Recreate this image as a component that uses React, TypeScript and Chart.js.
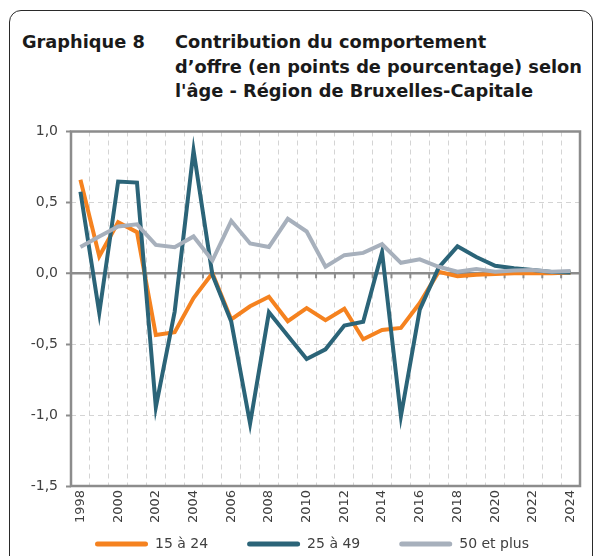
import React, { useEffect, useRef } from 'react';
import { Chart, registerables } from 'chart.js';

Chart.register(...registerables);

const years = [
  '1998', '1999', '2000', '2001', '2002', '2003', '2004', '2005', '2006',
  '2007', '2008', '2009', '2010', '2011', '2012', '2013', '2014', '2015',
  '2016', '2017', '2018', '2019', '2020', '2021', '2022', '2023', '2024',
];

const seriesLabels = ['15 à 24', '25 à 49', '50 et plus'];

const youth = [
  0.66, 0.12, 0.36, 0.29, -0.435, -0.415, -0.175, 0.0, -0.325,
  -0.233, -0.165, -0.338, -0.245, -0.33, -0.25, -0.465, -0.4, -0.385,
  -0.21, 0.01, -0.02, -0.01, -0.005, 0.0, 0.0, 0.0, 0.005,
];

const prime = [
  0.575, -0.28, 0.647, 0.64, -0.943, -0.27, 0.866, -0.01, -0.34,
  -1.06, -0.275, -0.44, -0.605, -0.536, -0.368, -0.342, 0.15, -1.008,
  -0.256, 0.04, 0.19, 0.115, 0.053, 0.035, 0.023, 0.01, 0.005,
];

const senior = [
  0.186, 0.26, 0.33, 0.345, 0.2, 0.184, 0.26, 0.09, 0.37,
  0.21, 0.186, 0.384, 0.295, 0.046, 0.128, 0.144, 0.205, 0.074,
  0.098, 0.046, 0.011, 0.03, 0.011, 0.02, 0.023, 0.011, 0.017,
];

const yMin = -1.5;
const yMax = 1.0;
const yStep = 0.5;

const colors = ['#F5821F', '#2B6478', '#A7B0BC'];
const FONT = '"DejaVu Sans", sans-serif';

const framePlugin = {
  id: 'frame',
  beforeDatasetsDraw(chart: any) {
    const { ctx, chartArea: a, scales } = chart;
    const xs = scales.x;
    const ys = scales.y;
    const n = chart.data.labels.length;
    const y0 = ys.getPixelForValue(0);
    ctx.save();
    ctx.strokeStyle = '#8c8c8c';
    ctx.lineWidth = 2;
    for (let i = 0; i <= n; i++) {
      const px = xs.left + (xs.width * i) / n;
      ctx.beginPath();
      ctx.moveTo(px, y0);
      ctx.lineTo(px, y0 + 5);
      ctx.stroke();
    }
    ctx.lineWidth = 2.5;
    ctx.strokeRect(a.left, a.top, a.width, a.height);
    ctx.restore();
  },
};

// move the legend box so its row sits just under the year labels
const legendPlace = {
  id: 'legendPlace',
  afterLayout(chart: any) {
    const lg = chart.legend;
    if (!lg) return;
    lg.left += 22;
    lg.right += 22;
    lg.top -= 33;
    lg.bottom -= 33;
  },
};

export default function App() {
  const ref = useRef<HTMLCanvasElement | null>(null);

  useEffect(() => {
    document.body.style.margin = '0';
    if (!ref.current) return;
    const series = [youth, prime, senior];
    const chart = new Chart(ref.current, {
      type: 'line',
      data: {
        labels: years,
        datasets: series.map((d, i) => ({
          label: seriesLabels[i],
          data: d,
          borderColor: colors[i],
          backgroundColor: colors[i],
          borderWidth: 4,
          pointRadius: 0,
          tension: 0,
          fill: false,
          order: 3 - i,
        })),
      },
      options: {
        animation: false,
        responsive: false,
        devicePixelRatio: 1,
        layout: { padding: { left: 0, right: 15, top: 21.5, bottom: 0 } },
        scales: {
          x: {
            type: 'category',
            offset: true,
            grid: { offset: true, color: '#d4d4d4', lineWidth: 1, drawTicks: false },
            border: { display: false, dash: [5, 4] },
            ticks: {
              autoSkip: false,
              maxRotation: 90,
              minRotation: 90,
              padding: 4,
              color: '#404040',
              font: { family: FONT, size: 13 },
              callback: (_v: any, i: number) => (i % 2 === 0 ? years[i] : ''),
            },
            afterFit: (s: any) => {
              s.height = 45;
            },
          },
          y: {
            min: yMin,
            max: yMax,
            ticks: {
              stepSize: yStep,
              padding: 8,
              color: '#404040',
              font: { family: FONT, size: 14 },
              callback: (v: any) => Number(v).toFixed(1).replace('.', ','),
            },
            grid: {
              color: (c: any) => (c.tick && c.tick.value === 0 ? '#8c8c8c' : '#d4d4d4'),
              lineWidth: (c: any) => (c.tick && c.tick.value === 0 ? 2.5 : 1),
              tickLength: 5,
              tickColor: '#8c8c8c',
              tickWidth: 2,
            },
            border: {
              display: false,
              dash: (c: any) => (c.type === 'tick' && c.tick && c.tick.value !== 0 ? [5, 4] : []),
            },
            afterFit: (s: any) => {
              s.width = 71;
            },
          },
        },
        plugins: {
          legend: {
            position: 'bottom',
            labels: {
              boxWidth: 53,
              boxHeight: 5,
              padding: 39,
              color: '#404040',
              font: { family: FONT, size: 14 },
              useBorderRadius: true,
              borderRadius: 2.5,
              sort: (a: any, b: any) => a.datasetIndex - b.datasetIndex,
              generateLabels: (c: any) =>
                Chart.defaults.plugins.legend.labels
                  .generateLabels(c)
                  .map((l: any) => ({ ...l, lineWidth: 0, fillStyle: l.strokeStyle })),
            },
          },
          tooltip: { enabled: false },
        },
      },
      plugins: [framePlugin, legendPlace],
    } as any);
    return () => chart.destroy();
  }, []);

  return (
    <div
      style={{
        position: 'fixed',
        left: 0,
        top: 0,
        width: 595,
        height: 556,
        overflow: 'hidden',
        background: '#fff',
      }}
    >
      <div
        style={{
          position: 'absolute',
          left: 9,
          top: 10,
          width: 584,
          height: 570,
          border: '1.5px solid #2a2a2a',
          borderRadius: 12,
          boxSizing: 'border-box',
        }}
      />
      <div
        style={{
          position: 'absolute',
          left: 22,
          top: 30,
          fontFamily: FONT,
          fontWeight: 'bold',
          fontSize: 17.8,
          lineHeight: '24.5px',
          color: '#1a1a1a',
          whiteSpace: 'nowrap',
        }}
      >
        Graphique 8
      </div>
      <div
        style={{
          position: 'absolute',
          left: 175,
          top: 30,
          fontFamily: FONT,
          fontWeight: 'bold',
          fontSize: 17.8,
          lineHeight: '24.5px',
          color: '#1a1a1a',
          whiteSpace: 'nowrap',
        }}
      >
        <div>Contribution du comportement</div>
        <div>d’offre (en points de pourcentage) selon</div>
        <div>l'âge - Région de Bruxelles-Capitale</div>
      </div>
      <canvas
        ref={ref}
        width={595}
        height={484}
        style={{ position: 'absolute', left: 0, top: 110, width: 595, height: 484 }}
      />
    </div>
  );
}
